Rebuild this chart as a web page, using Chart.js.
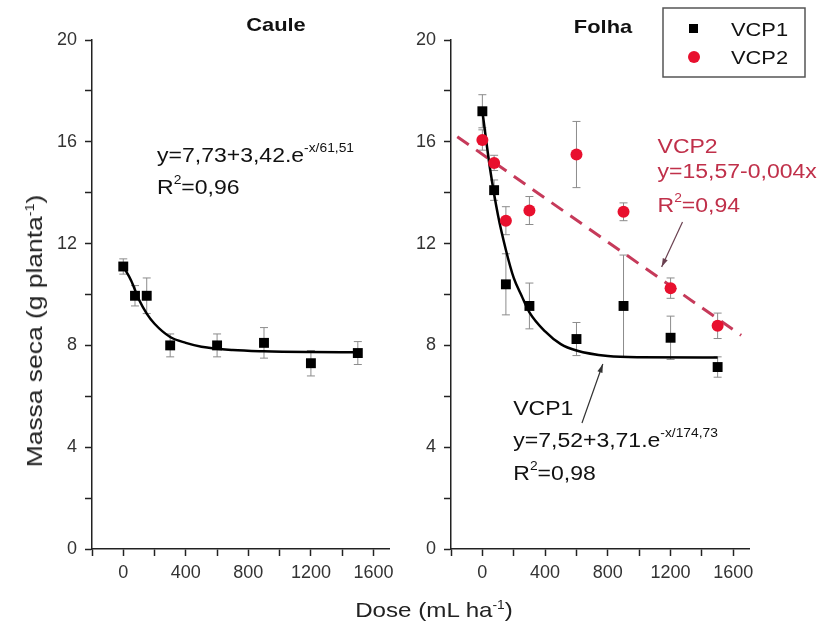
<!DOCTYPE html>
<html>
<head>
<meta charset="utf-8">
<script src="https://cdn.jsdelivr.net/npm/chart.js@4.4.1/dist/chart.umd.min.js"></script>
<style>
  body { margin: 0; background: #fff; }
  #wrap { position: relative; width: 822px; height: 626px; background: #fff; overflow: hidden; }
  canvas { position: absolute; top: 0; }
  .axtitle { position: absolute; font-family: "Liberation Sans", Arial, sans-serif; color: #222; white-space: nowrap; }
  .axtitle sup { font-size: 12px; }
  #ytitle { left: 35px; top: 331px; font-size: 22px; transform: translate(-50%, -50%) rotate(-90deg) scaleX(1.2); }
  #xtitle { left: 434px; top: 610px; font-size: 21px; transform: translate(-50%, -50%) scaleX(1.15); }
</style>
</head>
<body>
<div id="wrap">
  <canvas id="caule" width="400" height="626" style="left:0"></canvas>
  <canvas id="folha" width="422" height="626" style="left:400px"></canvas>
  <div id="ytitle" class="axtitle">Massa seca (g planta<sup>-1</sup>)</div>
  <div id="xtitle" class="axtitle">Dose (mL ha<sup>-1</sup>)</div>
</div>
<script>
// doses (mL/ha)
const doses = [0, 75, 150, 300, 600, 900, 1200, 1500];

// Caule
const cauleVcp1 = [11.1, 9.95, 9.95, 8.0, 8.0, 8.1, 7.3, 7.7];
const cauleVcp1Err = [0.3, 0.4, 0.7, 0.45, 0.45, 0.6, 0.5, 0.45];
const cauleFitX = [0, 50, 100, 150, 200, 300, 400, 500, 700, 900, 1200, 1500];
const cauleFitY = [11.1, 10.55, 9.8, 9.25, 8.85, 8.33, 8.1, 7.95, 7.82, 7.77, 7.74, 7.73];

// Folha
const folhaVcp1 = [17.2, 14.1, 10.4, 9.55, 8.25, 9.55, 8.3, 7.15];
const folhaVcp1Err = [0.65, 0.4, 1.2, 0.9, 0.65, 2.0, 0.85, 0.4];
const folhaVcp2 = [16.07, 15.17, 12.9, 13.3, 15.5, 13.25, 10.25, 8.77];
const folhaVcp2Err = [0.4, 0.3, 0.55, 0.55, 1.3, 0.35, 0.4, 0.5];
const folhaFit1X = [0, 50, 100, 150, 200, 250, 300, 400, 500, 600, 800, 1000, 1500];
const folhaFit1Y = [17.2, 14.9, 13.1, 11.75, 10.65, 9.95, 9.3, 8.55, 8.05, 7.8, 7.58, 7.53, 7.52];
const folhaFit2X = [-160, 1650];
const folhaFit2Y = [16.2, 8.4];

// ticks
const xTicks = [-200, 0, 200, 400, 600, 800, 1000, 1200, 1400, 1600];
const xLabeled = [0, 400, 800, 1200, 1600];
const yTicks = [0, 2, 4, 6, 8, 10, 12, 14, 16, 18, 20];
const yLabeled = [0, 4, 8, 12, 16, 20];

const FONT = '"Liberation Sans", Arial, sans-serif';
const SX = 1.15; // text in the figure is a bit wide
const BLACK = "#000";
const RED = "#e8102e";
const RED_LINE = "#c63a5a";
const RED_TEXT = "#c0304a";

const pts = (xs, ys) => xs.map((x, i) => ({ x, y: ys[i] }));

function makeScales(yWidth) {
  const axisGrid = { drawOnChartArea: false, drawTicks: true, tickLength: 7, tickColor: "#222", tickWidth: 1.5 };
  const axisBorder = { display: true, color: "#222", width: 1.5 };
  return {
    x: {
      type: "linear", min: -200, max: 1700,
      afterBuildTicks: (s) => { s.ticks = xTicks.map((value) => ({ value })); },
      afterFit: (s) => { s.height = 77; },
      grid: axisGrid, border: axisBorder,
      ticks: {
        padding: 6, color: "#333", font: { family: FONT, size: 18 },
        maxRotation: 0, autoSkip: false,
        callback: (v) => (xLabeled.includes(v) ? String(v) : "")
      }
    },
    y: {
      type: "linear", min: 0, max: 20,
      afterBuildTicks: (s) => { s.ticks = yTicks.map((value) => ({ value })); },
      afterFit: (s) => { s.width = yWidth; },
      grid: axisGrid, border: axisBorder,
      ticks: {
        padding: 8, color: "#333", font: { family: FONT, size: 18 },
        callback: (v) => (yLabeled.includes(v) ? String(v) : "")
      }
    }
  };
}

// error bars under the markers
const errorBars = {
  id: "errorBars",
  beforeDatasetsDraw(chart) {
    const ctx = chart.ctx;
    const ys = chart.scales.y;
    chart.data.datasets.forEach((ds, i) => {
      if (!ds.errors) return;
      const meta = chart.getDatasetMeta(i);
      ctx.save();
      ctx.strokeStyle = "#8c8c8c";
      ctx.lineWidth = 1;
      meta.data.forEach((el, j) => {
        const v = ds.data[j].y;
        const e = ds.errors[j];
        const top = ys.getPixelForValue(v + e);
        const bot = ys.getPixelForValue(v - e);
        ctx.beginPath();
        ctx.moveTo(el.x, top); ctx.lineTo(el.x, bot);
        ctx.moveTo(el.x - 4, top); ctx.lineTo(el.x + 4, top);
        ctx.moveTo(el.x - 4, bot); ctx.lineTo(el.x + 4, bot);
        ctx.stroke();
      });
      ctx.restore();
    });
  }
};

function drawRich(ctx, x, y, parts, color, size) {
  ctx.save();
  ctx.translate(x, y);
  ctx.scale(SX, 1);
  ctx.fillStyle = color;
  ctx.textBaseline = "alphabetic";
  let cx = 0;
  parts.forEach((p) => {
    ctx.font = (p.bold ? "bold " : "") + (p.sup ? 12 : size) + "px " + FONT;
    ctx.fillText(p.t, cx, p.sup ? -size * 0.5 : 0);
    cx += ctx.measureText(p.t).width;
  });
  ctx.restore();
}

function arrow(ctx, x1, y1, x2, y2, color) {
  const a = Math.atan2(y2 - y1, x2 - x1);
  ctx.save();
  ctx.strokeStyle = color; ctx.fillStyle = color; ctx.lineWidth = 1.2;
  ctx.beginPath(); ctx.moveTo(x1, y1); ctx.lineTo(x2, y2); ctx.stroke();
  ctx.beginPath();
  ctx.moveTo(x2, y2);
  ctx.lineTo(x2 - 9 * Math.cos(a - 0.3), y2 - 9 * Math.sin(a - 0.3));
  ctx.lineTo(x2 - 9 * Math.cos(a + 0.3), y2 - 9 * Math.sin(a + 0.3));
  ctx.closePath(); ctx.fill();
  ctx.restore();
}

// text notes, arrows, panel title, legend
const notes = {
  id: "notes",
  afterDraw(chart, args, opts) {
    const ctx = chart.ctx;
    const xs = chart.scales.x, ys = chart.scales.y;
    const px = (v) => xs.getPixelForValue(v);
    const py = (v) => ys.getPixelForValue(v);
    (opts.texts || []).forEach((t) => drawRich(ctx, px(t.x), py(t.y), t.parts, t.color, 20));
    (opts.arrows || []).forEach((a) => arrow(ctx, px(a.from[0]), py(a.from[1]), px(a.to[0]), py(a.to[1]), a.color));
    if (opts.title) {
      ctx.save();
      ctx.font = "bold 19px " + FONT;
      const w = ctx.measureText(opts.title.text).width * SX;
      drawRich(ctx, opts.title.cx - w / 2, opts.title.base, [{ t: opts.title.text, bold: true }], "#111", 19);
      ctx.restore();
    }
    if (opts.legend) {
      const L = opts.legend;
      ctx.save();
      ctx.strokeStyle = "#555"; ctx.lineWidth = 1.5;
      ctx.strokeRect(L.x, L.y, L.w, L.h);
      ctx.fillStyle = BLACK;
      ctx.fillRect(L.x + 26, L.y + 16, 9, 9);
      ctx.fillStyle = RED;
      ctx.beginPath(); ctx.arc(L.x + 31, L.y + 49, 6, 0, Math.PI * 2); ctx.fill();
      ctx.restore();
      drawRich(ctx, L.x + 68, L.y + 28, [{ t: "VCP1" }], "#111", 19);
      drawRich(ctx, L.x + 68, L.y + 56, [{ t: "VCP2" }], "#111", 19);
    }
  }
};

const baseOpts = (pad, yWidth, noteOpts) => ({
  responsive: false,
  maintainAspectRatio: false,
  animation: false,
  layout: { padding: pad },
  scales: makeScales(yWidth),
  plugins: { legend: { display: false }, tooltip: { enabled: false }, notes: noteOpts }
});

new Chart(document.getElementById("caule"), {
  type: "scatter",
  data: {
    datasets: [
      { label: "VCP1", data: pts(doses, cauleVcp1), errors: cauleVcp1Err, pointStyle: "rect", pointRadius: 7, backgroundColor: BLACK, borderColor: BLACK, borderWidth: 0 },
      { label: "fit", data: pts(cauleFitX, cauleFitY), showLine: true, borderColor: BLACK, borderWidth: 2.5, pointRadius: 0, cubicInterpolationMode: "monotone" }
    ]
  },
  options: baseOpts({ top: 40, right: 10, left: 0, bottom: 0 }, 92, {
    title: { text: "Caule", cx: 276, base: 31 },
    texts: [
      { x: 216, y: 15.21, color: "#111", parts: [{ t: "y=7,73+3,42.e" }, { t: "-x/61,51", sup: true }] },
      { x: 216, y: 13.95, color: "#111", parts: [{ t: "R" }, { t: "2", sup: true }, { t: "=0,96" }] }
    ]
  }),
  plugins: [errorBars, notes]
});

new Chart(document.getElementById("folha"), {
  type: "scatter",
  data: {
    datasets: [
      { label: "VCP1", data: pts(doses, folhaVcp1), errors: folhaVcp1Err, pointStyle: "rect", pointRadius: 7, backgroundColor: BLACK, borderColor: BLACK, borderWidth: 0 },
      { label: "VCP2", data: pts(doses, folhaVcp2), errors: folhaVcp2Err, pointStyle: "circle", pointRadius: 6, backgroundColor: RED, borderColor: RED, borderWidth: 0 },
      { label: "fit VCP1", data: pts(folhaFit1X, folhaFit1Y), showLine: true, borderColor: BLACK, borderWidth: 2.5, pointRadius: 0, cubicInterpolationMode: "monotone" },
      { label: "fit VCP2", data: pts(folhaFit2X, folhaFit2Y), showLine: true, borderColor: RED_LINE, borderWidth: 3, borderDash: [14, 9], pointRadius: 0 }
    ]
  },
  options: baseOpts({ top: 40, right: 73, left: 0, bottom: 0 }, 51, {
    title: { text: "Folha", cx: 203, base: 33 },
    legend: { x: 263, y: 8, w: 142, h: 69 },
    texts: [
      { x: 1117, y: 15.56, color: RED_TEXT, parts: [{ t: "VCP2" }] },
      { x: 1117, y: 14.58, color: RED_TEXT, parts: [{ t: "y=15,57-0,004x" }] },
      { x: 1117, y: 13.24, color: RED_TEXT, parts: [{ t: "R" }, { t: "2", sup: true }, { t: "=0,94" }] },
      { x: 197, y: 5.27, color: "#111", parts: [{ t: "VCP1" }] },
      { x: 197, y: 4.01, color: "#111", parts: [{ t: "y=7,52+3,71.e" }, { t: "-x/174,73", sup: true }] },
      { x: 197, y: 2.71, color: "#111", parts: [{ t: "R" }, { t: "2", sup: true }, { t: "=0,98" }] }
    ],
    arrows: [
      { from: [1276, 12.85], to: [1143, 11.08], color: "#6a4050" },
      { from: [635, 4.95], to: [768, 7.27], color: "#333" }
    ]
  }),
  plugins: [errorBars, notes]
});
</script>
</body>
</html>
